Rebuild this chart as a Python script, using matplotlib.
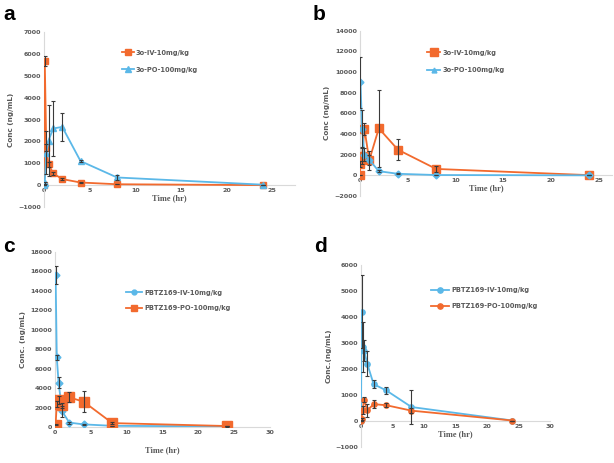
import matplotlib
matplotlib.use("Agg")
import matplotlib.pyplot as plt
import numpy as np

W, H = 614, 463
ORANGE = "#F26A2E"
BLUE = "#5BB8E8"
ERR = "#3A3A3A"
AX = "#D9D9D9"
TXT = "#595959"

# ---------------- data ----------------
# Panel a
a_iv_t = [0, 0.083, 0.25, 0.5, 1, 2, 4, 8, 24]
a_iv_y = [0, 5690, 1720, 950, 540, 275, 120, 40, 0]
a_iv_e = [0, 230, 150, 120, 80, 40, 20, 10, 0]
a_po_t = [0, 0.083, 0.25, 0.5, 1, 2, 4, 8, 24]
a_po_y = [0, 100, 1490, 2040, 2590, 2660, 1100, 350, 20]
a_po_e = [0, 50, 1000, 1600, 1270, 640, 60, 130, 0]

# Panel b
b_iv_t = [0, 0.083, 0.25, 0.5, 1, 2, 4, 8, 24]
b_iv_y = [0, 1100, 1850, 4480, 1460, 4550, 2480, 620, 20]
b_iv_e = [0, 300, 800, 600, 900, 3750, 1000, 250, 0]
b_po_t = [0.083, 0.25, 0.5, 1, 2, 4, 8, 24]
b_po_y = [9000, 4500, 2000, 1500, 400, 150, 30, 0]
b_po_e = [2500, 1800, 600, 500, 100, 50, 10, 0]

# Panel c
c_iv_t = [0.083, 0.25, 0.5, 1, 2, 4, 8, 24]
c_iv_y = [15650, 7150, 4550, 1600, 450, 270, 120, 60]
c_iv_e = [900, 300, 550, 600, 100, 60, 20, 10]
c_po_t = [0.083, 0.25, 0.5, 1, 2, 4, 8, 24]
c_po_y = [250, 2350, 2780, 2250, 3050, 2600, 400, 100]
c_po_e = [50, 300, 400, 250, 500, 1100, 100, 20]

# Panel d
d_iv_t = [0, 0.083, 0.25, 0.5, 1, 2, 4, 8, 24]
d_iv_y = [0, 4220, 2840, 2710, 2200, 1420, 1180, 540, 20]
d_iv_e = [0, 1390, 960, 400, 480, 150, 150, 660, 0]
d_po_t = [0, 0.083, 0.25, 0.5, 1, 2, 4, 8, 24]
d_po_y = [0, 90, 440, 820, 410, 650, 610, 400, 20]
d_po_e = [0, 40, 150, 100, 250, 150, 80, 100, 0]

fig = plt.figure(figsize=(W / 100, H / 100), dpi=100)


def mkax(l, r, t, b):
    return fig.add_axes([l / W, (H - b) / H, (r - l) / W, (b - t) / H])


def style(ax, xlim, ylim, yticks, xticks, ylabel, spine0=True, xlpad=1):
    ax.set_xlim(*xlim)
    ax.set_ylim(*ylim)
    ax.set_yticks(yticks)
    ax.set_xticks(xticks)
    for s in ["top", "right"]:
        ax.spines[s].set_visible(False)
    for s in ["left", "bottom"]:
        ax.spines[s].set_color(AX)
        ax.spines[s].set_linewidth(0.8)
    if spine0:
        ax.spines["bottom"].set_position(("data", 0))
    ax.tick_params(length=0, labelsize=4.6, colors=TXT, pad=2)
    for lab in ax.get_xticklabels() + ax.get_yticklabels():
        lab.set_fontweight("bold")
    ax.set_ylabel(ylabel, fontsize=5.2, fontweight="bold", color=TXT, labelpad=3)
    ax.set_xlabel("Time (hr)", fontsize=6, fontweight="bold", color=TXT,
                  family="Liberation Serif", labelpad=xlpad)
    ax.patch.set_alpha(0)


def series(ax, t, y, e, color, marker, ms, label):
    ax.errorbar(t, y, yerr=e, fmt="none", ecolor=ERR, elinewidth=0.8,
                capsize=1.6, capthick=0.8, zorder=4)
    ax.plot(t, y, color=color, marker=marker, ms=ms, lw=1.3,
            mec=color, mfc=color, label=label, zorder=3)


def legend(ax, loc, hl, ls):
    leg = ax.legend(loc="upper left", bbox_to_anchor=loc, frameon=False,
                    fontsize=4.8, handlelength=hl, labelspacing=ls,
                    handletextpad=0.3, borderpad=0, borderaxespad=0)
    for txt in leg.get_texts():
        txt.set_color(TXT)
        txt.set_fontweight("bold")
    return leg


# ---- a ----
ax = mkax(44, 295, 32, 207)
series(ax, a_iv_t, a_iv_y, a_iv_e, ORANGE, "s", 5, "3o-IV-10mg/kg")
series(ax, a_po_t, a_po_y, a_po_e, BLUE, "^", 4.5, "3o-PO-100mg/kg")
style(ax, (0, 27.5), (-1000, 7000), np.arange(-1000, 7001, 1000),
      np.arange(0, 26, 5), "Conc (ng/mL)")
legend(ax, (0.31, 0.90), 1.8, 1.7)

# ---- b ----
ax = mkax(359.7, 612, 30.7, 196)
series(ax, b_iv_t, b_iv_y, b_iv_e, ORANGE, "s", 5.5, "3o-IV-10mg/kg")
series(ax, b_po_t, b_po_y, b_po_e, BLUE, "D", 3.5, "3o-PO-100mg/kg")
style(ax, (0, 26.4), (-2000, 14000), np.arange(-2000, 14001, 2000),
      np.arange(0, 26, 5), "Conc (ng/mL)")
leg = legend(ax, (0.267, 0.885), 2.0, 1.7)
leg.legend_handles[1].set_marker("^")

# ---- c ----
ax = mkax(55, 270, 252, 427)
series(ax, c_iv_t, c_iv_y, c_iv_e, BLUE, "D", 3.5, "PBTZ169-IV-10mg/kg")
series(ax, c_po_t, c_po_y, c_po_e, ORANGE, "s", 6.5, "PBTZ169-PO-100mg/kg")
style(ax, (0, 30), (0, 18000), np.arange(0, 18001, 2000),
      np.arange(0, 31, 5), "Conc. (ng/mL)", spine0=False, xlpad=8)
leg = legend(ax, (0.33, 0.785), 2.4, 1.4)
leg.legend_handles[0].set_marker("o")
leg.legend_handles[1].set_markersize(4)

# ---- d ----
ax = mkax(361, 550.3, 265.3, 447)
series(ax, d_iv_t, d_iv_y, d_iv_e, BLUE, "o", 3.8, "PBTZ169-IV-10mg/kg")
series(ax, d_po_t, d_po_y, d_po_e, ORANGE, "o", 3.8, "PBTZ169-PO-100mg/kg")
style(ax, (0, 30), (-1000, 6000), np.arange(-1000, 6001, 1000),
      np.arange(0, 31, 5), "Conc.(ng/mL)")
legend(ax, (0.37, 0.878), 2.7, 1.5)

# panel labels
for x, y, s in [(3, 20, "a"), (313, 20, "b"), (3, 252, "c"), (314, 252, "d")]:
    fig.text(x / W, (H - y) / H, s, fontsize=15, fontweight="bold",
             family="Liberation Sans", color="black")

fig.savefig("out.png", dpi=100)
